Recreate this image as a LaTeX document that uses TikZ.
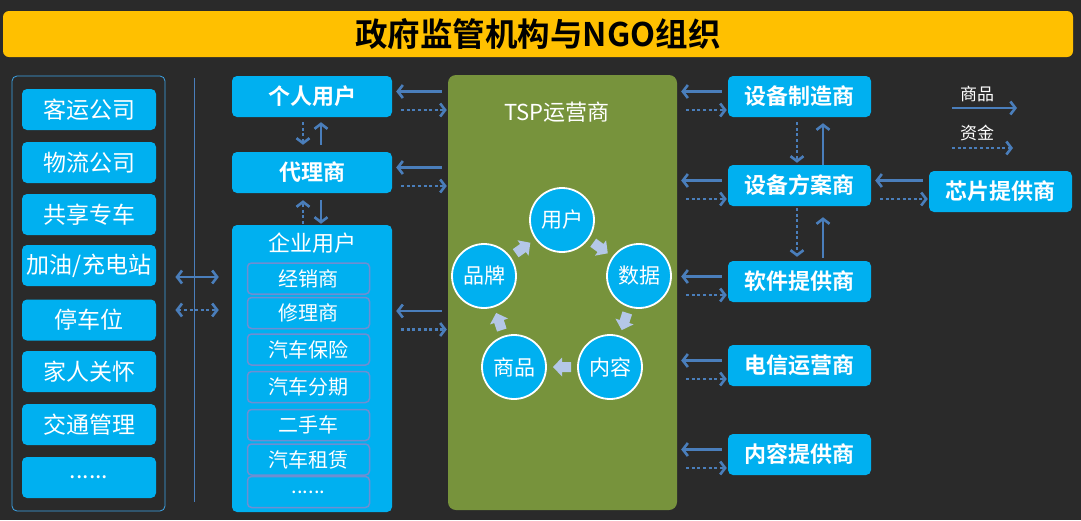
\documentclass[tikz,border=0pt]{standalone}
\usepackage{fontspec}
\setmainfont{Noto Sans CJK SC}[BoldFont={Noto Sans CJK SC Bold}]
\usetikzlibrary{arrows.meta,calc,positioning}
\definecolor{Bg}{HTML}{2A2A2A}
\definecolor{Sky}{HTML}{00B0F0}
\definecolor{Gold}{HTML}{FFC000}
\definecolor{Olive}{HTML}{77933C}
\definecolor{Steel}{HTML}{4A7EBB}
\definecolor{Pale}{HTML}{B4C7E7}
\definecolor{Frame}{HTML}{3DA5E8}
\definecolor{Lilac}{HTML}{6F8ED2}
\newcommand{\more}{......}
\tikzset{
  box/.style={fill=Sky,rounded corners=5pt,text=white,minimum width=143pt,minimum height=41pt,inner sep=0pt,font=\fontsize{22}{24}\selectfont},
  hot/.style={box,font=\fontsize{22}{24}\selectfont\bfseries},
  sub/.style={box,draw=Lilac,line width=1.5pt,rounded corners=4pt,minimum width=122pt,minimum height=31pt,font=\fontsize{20}{22}\selectfont},
  ring/.style={circle,fill=Sky,draw=white,line width=1.8pt,minimum size=64pt,inner sep=0pt,text=white,font=\fontsize{21}{23}\selectfont},
  turn/.pic={\fill[Pale] (-9,-5) -- (0,-5) -- (0,-9.5) -- (9,0) -- (0,9.5) -- (0,5) -- (-9,5) -- cycle;},
  flow/.style={Steel,line width=2.6pt,-{Straight Barb[length=5pt,width=13pt]}},
  cash/.style={flow,dash pattern=on 3pt off 2.6pt},
  both/.style={Steel,line width=2.6pt,{Straight Barb[length=5pt,width=13pt]}-{Straight Barb[length=5pt,width=13pt]}},
}
% goods go left on top, money goes right below
\newcommand{\trade}[3]{%
  \draw[flow] ($(#2.west |- #3)+(-6pt,5pt)$) -- ($(#1.east |- #3)+(4pt,5pt)$);
  \draw[cash] ($(#1.east |- #3)+(9pt,-13.5pt)$) -- ($(#2.west |- #3)+(-1pt,-13.5pt)$);
}
\begin{document}
\begin{tikzpicture}[x=1pt,y=-1pt]
  \fill[Bg] (0,0) rectangle (1081,520);
  \useasboundingbox (0,0) rectangle (1081,520);
  % banner
  \node[fill=Gold,rounded corners=6pt,minimum width=1070pt,minimum height=46pt,inner sep=0pt,font=\fontsize{32.5}{34}\selectfont\bfseries] (gov) at (538,34) {政府监管机构与NGO组织};
  % scenes on the left
  \node[draw=Frame,line width=0.8pt,rounded corners=5pt,minimum width=153pt,minimum height=435pt] (cust) at (88.5,293.5) {};
  \foreach \t/\y [count=\i] in {客运公司/109.5,物流公司/162.5,共享专车/214.5,{加油/充电站}/265.5,停车位/320,家人关怀/371.5,交通管理/424.5,\more/477.5}
    \node[box,minimum width=134pt,font=\fontsize{23}{25}\selectfont] (s\i) at (89,\y) {\t};
  \draw[Steel,line width=0.8pt] (194,78) -- (194,502);
  % users
  \node[hot,minimum width=160pt] (pu) at (312,96.5) {个人用户};
  \node[hot,minimum width=160pt] (dl) at (312,172.5) {代理商};
  \node[box,minimum width=160pt,minimum height=287pt] (ent) at (312,368.5) {};
  \node[text=white,font=\fontsize{22}{24}\selectfont] (entlbl) at ($(ent.north)+(0,18)$) {企业用户};
  \foreach \t/\y [count=\i] in {经销商/278.5,修理商/313,汽车保险/349.5,汽车分期/387,二手车/425,汽车租赁/459.5,\more/492}
    \node[sub] (e\i) at (308.5,\y) {\t};
  \draw[both,shorten <=10pt,shorten >=13pt] ($(cust.east |- e1)+(0,-1.5)$) -- ($(ent.west |- e1)+(0,-1.5)$);
  \draw[both,dash pattern=on 3pt off 2.6pt,shorten <=10pt,shorten >=13pt] ($(cust.east |- e2)+(0,-3)$) -- ($(ent.west |- e2)+(0,-3)$);
  % operator
  \node[fill=Olive,rounded corners=8pt,minimum width=229pt,minimum height=435pt] (tsp) at (562.5,292.5) {};
  \node[text=white,font=\fontsize{22}{24}\selectfont] (tsplbl) at (557,112) {TSP运营商};
  \node[ring] (yh) at (562,220) {用户};
  \node[ring] (sj) at (639,276) {数据};
  \node[ring] (nr) at (610,367) {内容};
  \node[ring] (sp) at (514,367) {商品};
  \node[ring] (pp) at (484,276) {品牌};
  \foreach \a/\b in {pp/yh,yh/sj,sj/nr,nr/sp,sp/pp}
    \path let \p1=($(\b)-(\a)$), \n1={atan2(\y1,\x1)} in ($(\a)!.5!(\b)$) pic[rotate=\n1] {turn};
  % suppliers
  \node[hot] (zz) at (799.5,96.5) {设备制造商};
  \node[hot] (fa) at (799.5,185.5) {设备方案商};
  \node[hot] (rj) at (799.5,281.5) {软件提供商};
  \node[hot] (dx) at (799.5,365.5) {电信运营商};
  \node[hot] (nt) at (799.5,454.5) {内容提供商};
  \node[hot] (xp) at (1000.5,191.5) {芯片提供商};
  % legend
  \node[text=white,font=\fontsize{17}{19}\selectfont] (lg1) at (977,94) {商品};
  \node[text=white,font=\fontsize{17}{19}\selectfont] (lg2) at (977,133) {资金};
  \coordinate (g1a) at (952,108); \coordinate (g1b) at (1017,108);
  \coordinate (g2a) at (952,148); \coordinate (g2b) at (1013,148);
  \draw[flow] (g1a) -- (g1b);
  \draw[cash] (g2a) -- (g2b);
  % flows
  \coordinate (entlink) at ($(e2)+(0,3)$);
  \trade{pu}{tsp}{pu}
  \trade{dl}{tsp}{dl}
  \trade{ent}{tsp}{entlink}
  \trade{tsp}{zz}{zz}
  \trade{tsp}{fa}{fa}
  \trade{tsp}{rj}{rj}
  \trade{tsp}{dx}{dx}
  \trade{tsp}{nt}{nt}
  \trade{fa}{xp}{fa}
  \draw[cash,shorten <=5pt,shorten >=7pt] ([xshift=-9pt]pu.south) -- ([xshift=-9pt]dl.north);
  \draw[flow,shorten <=7pt,shorten >=5pt] ([xshift=9pt]dl.north) -- ([xshift=9pt]pu.south);
  \draw[cash,shorten <=1pt,shorten >=7pt] ([xshift=-9pt]ent.north) -- ([xshift=-9pt]dl.south);
  \draw[flow,shorten <=7pt,shorten >=1pt] ([xshift=9pt]dl.south) -- ([xshift=9pt]ent.north);
  \draw[cash,shorten <=5pt,shorten >=2pt] ([xshift=-2.5pt]zz.south) -- ([xshift=-2.5pt]fa.north);
  \draw[flow,shorten >=6pt] ([xshift=23.5pt]fa.north) -- ([xshift=23.5pt]zz.south);
  \draw[cash,shorten <=2pt,shorten >=4pt] ([xshift=-2.5pt]fa.south) -- ([xshift=-2.5pt]rj.north);
  \draw[flow,shorten <=3pt,shorten >=11pt] ([xshift=23.5pt]rj.north) -- ([xshift=23.5pt]fa.south);
\end{tikzpicture}
\end{document}
